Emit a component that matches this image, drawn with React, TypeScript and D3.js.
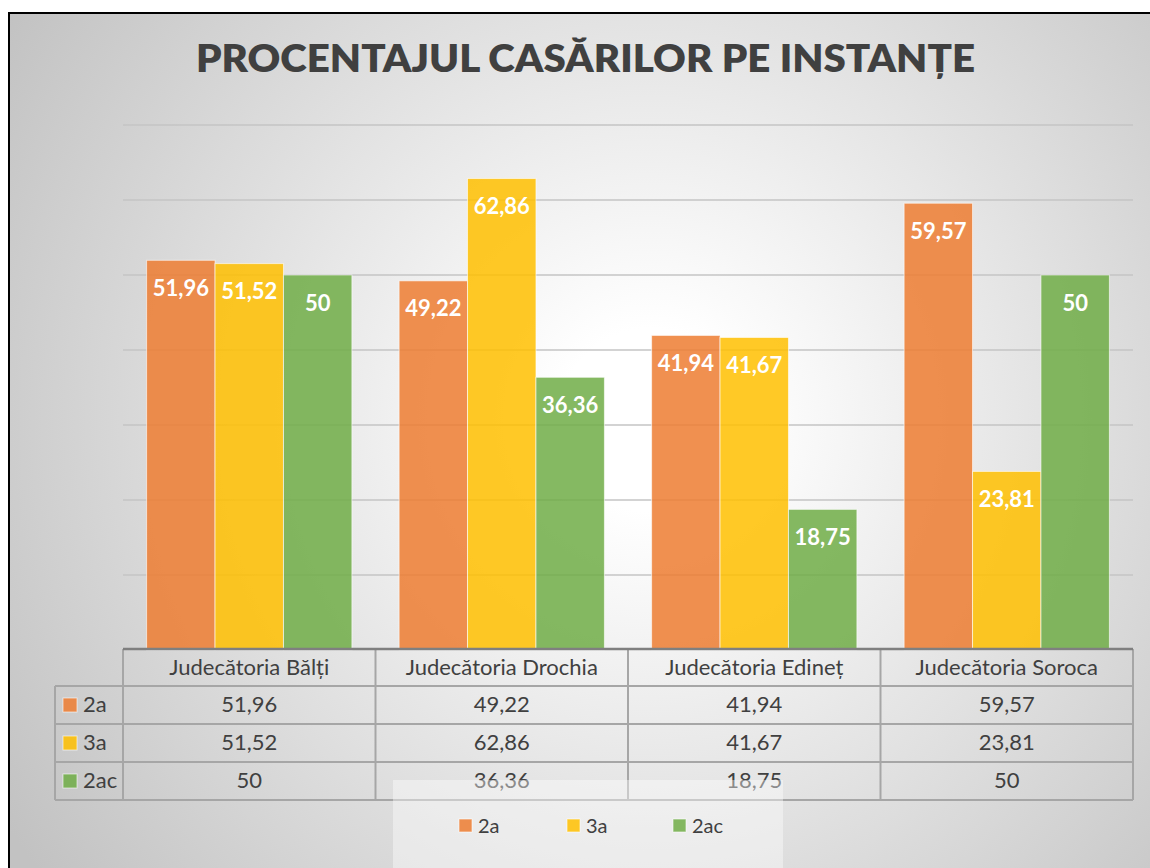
import * as d3 from "d3"

const categories = ["Judecătoria Bălți", "Judecătoria Drochia", "Judecătoria Edineț", "Judecătoria Soroca"]
const seriesNames = ["2a", "3a", "2ac"]
const values2a = [51.96, 49.22, 41.94, 59.57]
const values3a = [51.52, 62.86, 41.67, 23.81]
const values2ac = [50, 36.36, 18.75, 50]
const yTicks = [0, 10, 20, 30, 40, 50, 60, 70]
const seriesColors = ["#ED7D31", "#FFC000", "#70AD47"]

const W = 1150
const H = 868
const FONT = "Lato, 'Open Sans', sans-serif"

const fmt = (v: number) => String(v).replace(".", ",")

export default function App() {
  const series = [values2a, values3a, values2ac]
  const plot = { left: 123, right: 1133, top: 125, bottom: 650 }

  const y = d3.scaleLinear().domain([0, 70]).range([plot.bottom, plot.top])
  const x0 = d3.scaleBand<string>().domain(categories).range([plot.left, plot.right]).padding(0)
  const x1 = d3
    .scaleBand<string>()
    .domain(seriesNames)
    .range([0, x0.bandwidth()])
    .paddingInner(0)
    .paddingOuter(0.345)

  // * table layout
  const headerTop = 649
  const rowH = 38
  const tableRows = [headerTop + 37, headerTop + 37 + rowH, headerTop + 37 + rowH * 2, headerTop + 37 + rowH * 3]
  const labelLeft = 55
  const colEdges = [...categories.map((c) => x0(c) as number), plot.right]

  // * legend
  const legendItems = [459, 567, 673]

  return (
    <svg
      width={W}
      height={H}
      style={{ position: "absolute", left: 0, top: 0 }}
      fontFamily={FONT}
    >
      <defs>
        <radialGradient id="bg" gradientUnits="userSpaceOnUse" cx={650} cy={420} r={760}>
          <stop offset="0" stopColor="#ffffff" />
          <stop offset="0.12" stopColor="#ffffff" />
          <stop offset="1" stopColor="#c2c2c2" />
        </radialGradient>
      </defs>
      <rect x={0} y={0} width={W} height={H} fill="#ffffff" />
      <rect x={9} y={13} width={1300} height={1000} fill="url(#bg)" stroke="#000" strokeWidth={2} />

      {/* title */}
      <text
        x={585.5}
        y={72}
        textAnchor="middle"
        fontSize={38}
        fontWeight={800}
        fill="#404040"
        textLength={779}
        lengthAdjust="spacingAndGlyphs"
      >
        PROCENTAJUL CASĂRILOR PE INSTANȚE
      </text>

      {/* gridlines */}
      {yTicks.slice(1).map((t) => (
        <line key={t} x1={plot.left} x2={plot.right} y1={y(t)} y2={y(t)} stroke="#c4c4c4" strokeWidth={1.5} />
      ))}

      {/* bars */}
      {categories.map((c, ci) =>
        seriesNames.map((s, si) => {
          const v = series[si][ci]
          const bx = (x0(c) as number) + (x1(s) as number)
          return (
            <g key={c + s}>
              <rect
                x={bx}
                y={y(v)}
                width={x1.bandwidth()}
                height={plot.bottom - y(v)}
                fill={seriesColors[si]}
                fillOpacity={0.85}
                stroke="#ffffff"
                strokeOpacity={0.6}
                strokeWidth={1}
              />
              <text
                x={bx + x1.bandwidth() / 2}
                y={y(v) + 27}
                textAnchor="middle"
                dominantBaseline="central"
                fontSize={22}
                fontWeight={700}
                fill="#ffffff"
              >
                {fmt(v)}
              </text>
            </g>
          )
        })
      )}

      {/* data table */}
      {categories.map((c) => (
        <text
          key={c}
          x={(x0(c) as number) + x0.bandwidth() / 2}
          y={headerTop + 26}
          textAnchor="middle"
          fontSize={22}
          fill="#404040"
        >
          {c}
        </text>
      ))}
      {seriesNames.map((s, si) => (
        <g key={s}>
          <rect
            x={63}
            y={tableRows[si] + 12}
            width={14}
            height={14}
            fill={seriesColors[si]}
            fillOpacity={0.85}
            stroke="#ffffff"
            strokeOpacity={0.6}
          />
          <text x={83} y={tableRows[si] + 26} fontSize={22} fill="#404040">
            {s}
          </text>
          {categories.map((c, ci) => (
            <text
              key={c}
              x={(x0(c) as number) + x0.bandwidth() / 2}
              y={tableRows[si] + 26}
              textAnchor="middle"
              fontSize={22}
              fill="#404040"
            >
              {fmt(series[si][ci])}
            </text>
          ))}
        </g>
      ))}
      {tableRows.map((ry) => (
        <line key={ry} x1={labelLeft} x2={plot.right} y1={ry} y2={ry} stroke="#a6a6a6" strokeWidth={2} />
      ))}
      <line x1={labelLeft} x2={labelLeft} y1={tableRows[0]} y2={tableRows[3]} stroke="#a6a6a6" strokeWidth={2} />
      {colEdges.map((cx) => (
        <line key={cx} x1={cx} x2={cx} y1={headerTop} y2={tableRows[3]} stroke="#a6a6a6" strokeWidth={2} />
      ))}
      <line x1={plot.left} x2={plot.right} y1={headerTop} y2={headerTop} stroke="#7f7f7f" strokeWidth={2.5} />

      {/* legend */}
      <rect x={393} y={780} width={390} height={100} fill="#ffffff" fillOpacity={0.4} />
      {seriesNames.map((s, si) => (
        <g key={s}>
          <rect
            x={legendItems[si]}
            y={819}
            width={13}
            height={13}
            fill={seriesColors[si]}
            fillOpacity={0.85}
            stroke="#ffffff"
            strokeOpacity={0.6}
          />
          <text x={legendItems[si] + 19} y={833} fontSize={20} fill="#404040">
            {s}
          </text>
        </g>
      ))}
    </svg>
  )
}
